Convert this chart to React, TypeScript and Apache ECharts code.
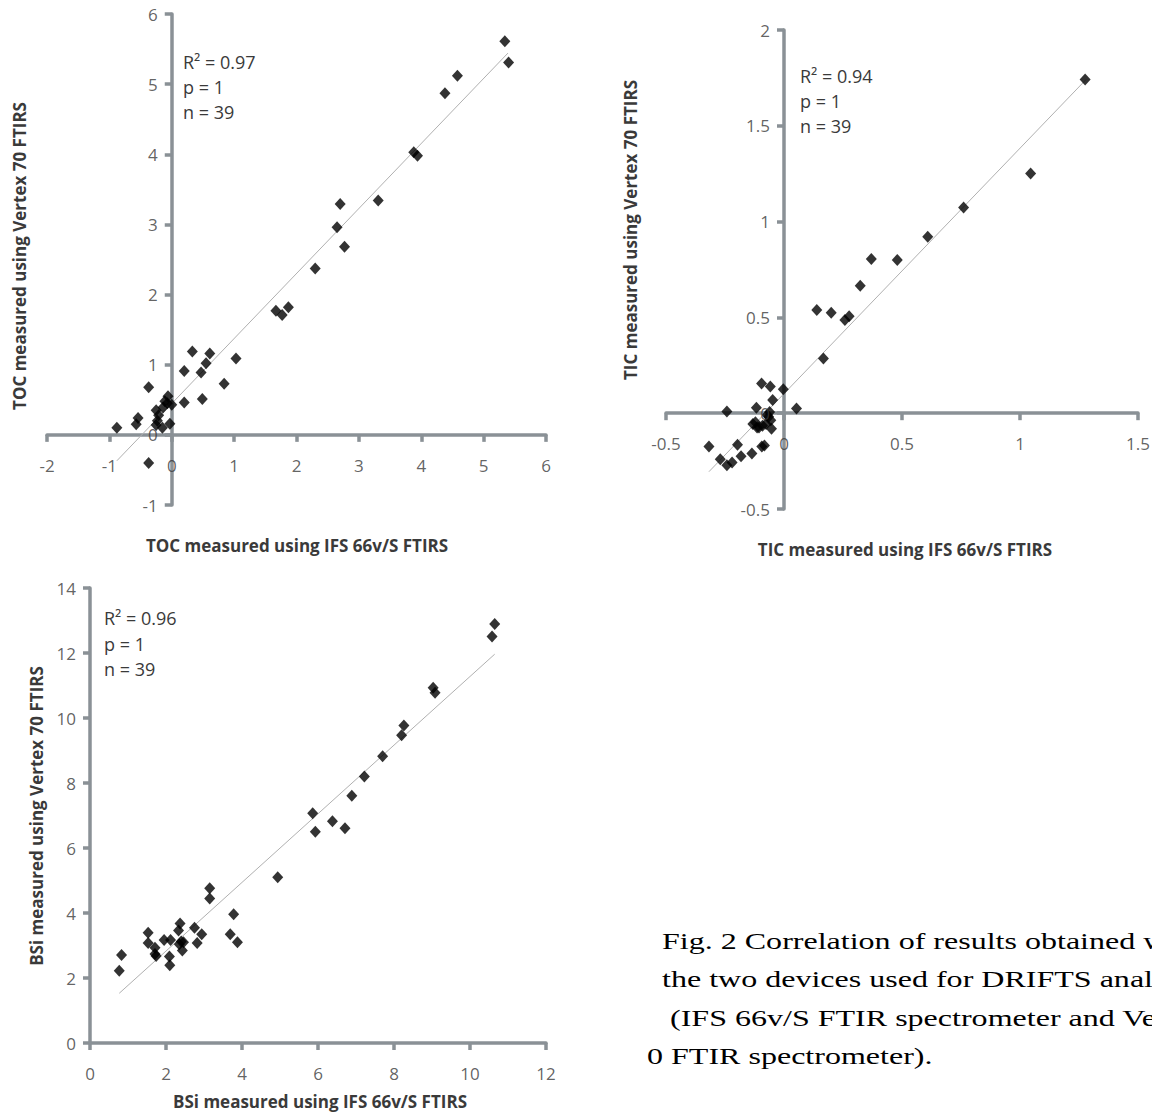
import React, { useEffect, useRef } from "react";
import * as echarts from "echarts";

const W = 1152;
const H = 1113;

// ---------- Data: TOC ----------
const tocX = [5.34, 5.40, 4.58, 4.38, 3.88, 3.94, 3.31, 2.70, 2.65, 2.77, 2.30, 1.67, 1.77, 1.87, 1.03, 0.33, 0.61, 0.55, 0.47, 0.20, 0.84, 0.49, 0.20, -0.37, -0.06, -0.11, 0.0, -0.14, -0.25, -0.21, -0.54, -0.57, -0.88, -0.25, -0.15, -0.03, -0.37, -0.23, -0.07];
const tocY = [5.61, 5.31, 5.12, 4.87, 4.03, 3.98, 3.34, 3.29, 2.96, 2.68, 2.37, 1.77, 1.71, 1.82, 1.09, 1.19, 1.16, 1.02, 0.89, 0.91, 0.73, 0.51, 0.46, 0.68, 0.55, 0.48, 0.43, 0.39, 0.35, 0.28, 0.24, 0.15, 0.10, 0.14, 0.10, 0.16, -0.40, 0.20, 0.45];
const tocFitX = [-0.88, 5.39];
const tocFitCoef = [0.927, 0.446];
const tocStats = ["R² = 0.97", "p = 1", "n = 39"];
const tocXTicks = [-2, -1, 0, 1, 2, 3, 4, 5, 6];
const tocYTicks = [-1, 0, 1, 2, 3, 4, 5, 6];

// ---------- Data: TIC ----------
const ticX = [1.276, 1.045, 0.761, 0.609, 0.370, 0.480, 0.323, 0.139, 0.200, 0.258, 0.276, 0.167, -0.003, -0.095, -0.058, -0.048, 0.053, -0.117, -0.242, -0.065, -0.071, -0.056, -0.132, -0.114, -0.091, -0.053, -0.318, -0.197, -0.094, -0.136, -0.182, -0.270, -0.242, -0.220, -0.083, -0.121, -0.076, -0.106, -0.061];
const ticY = [1.742, 1.251, 1.073, 0.921, 0.805, 0.800, 0.665, 0.539, 0.524, 0.487, 0.506, 0.285, 0.125, 0.155, 0.140, 0.069, 0.024, 0.028, 0.009, -0.019, -0.009, -0.037, -0.056, -0.075, -0.066, -0.081, -0.174, -0.165, -0.174, -0.210, -0.225, -0.240, -0.272, -0.257, -0.169, -0.047, -0.056, -0.075, 0.006];
const ticFitX = [-0.318, 1.28];
const ticFitCoef = [1.281, 0.102];
const ticStats = ["R² = 0.94", "p = 1", "n = 39"];
const ticXTicks = [-0.5, 0, 0.5, 1, 1.5];
const ticYTicks = [-0.5, 0, 0.5, 1, 1.5, 2];

// ---------- Data: BSi ----------
const bsiX = [10.65, 10.58, 9.03, 9.08, 8.26, 8.20, 7.70, 7.22, 6.89, 5.86, 5.93, 6.38, 6.71, 4.94, 3.15, 3.15, 3.78, 3.69, 3.88, 2.75, 2.94, 2.82, 2.37, 2.33, 2.40, 2.46, 2.43, 2.12, 1.95, 2.09, 2.10, 1.53, 1.53, 1.71, 1.74, 0.83, 0.77, 2.35, 1.71];
const bsiY = [12.89, 12.51, 10.93, 10.78, 9.77, 9.47, 8.82, 8.20, 7.61, 7.07, 6.50, 6.82, 6.61, 5.10, 4.76, 4.45, 3.96, 3.35, 3.10, 3.55, 3.35, 3.08, 3.68, 3.46, 3.12, 3.10, 2.85, 3.17, 3.17, 2.66, 2.39, 3.39, 3.08, 2.93, 2.68, 2.71, 2.22, 3.04, 2.74];
const bsiFitX = [0.77, 10.65];
const bsiFitCoef = [1.056, 0.717];
const bsiStats = ["R² = 0.96", "p = 1", "n = 39"];
const bsiXTicks = [0, 2, 4, 6, 8, 10, 12];
const bsiYTicks = [0, 2, 4, 6, 8, 10, 12, 14];

// ---------- Axis ranges [min, max, interval] ----------
const tocRange = { x: [-2, 6, 1], y: [-1, 6, 1] };
const ticRange = { x: [-0.5, 1.5, 0.5], y: [-0.5, 2, 0.5] };
const bsiRange = { x: [0, 12, 2], y: [0, 14, 2] };

const titles = {
  tocX: "TOC measured using IFS 66v/S FTIRS",
  tocY: "TOC measured using Vertex 70 FTIRS",
  ticX: "TIC measured using IFS 66v/S FTIRS",
  ticY: "TIC measured using Vertex 70 FTIRS",
  bsiX: "BSi measured using IFS 66v/S FTIRS",
  bsiY: "BSi measured using Vertex 70 FTIRS",
};

const captionLines = [
  "Fig. 2 Correlation of results obtained with",
  "the two devices used for DRIFTS analysis",
  " (IFS 66v/S FTIR spectrometer and Vertex 7",
  "0 FTIR spectrometer).",
];

// ---------- Styles ----------
const AXIS = "#8a9196";
const LABEL = "#3a3a3a";
const SANS = "'Open Sans', 'Liberation Sans', sans-serif";
const SERIF = "'Liberation Serif', 'Times New Roman', serif";
const TICK_FONT = 17;

function pairs(xs: number[], ys: number[]) {
  return xs.map((x, i) => [x, ys[i]]);
}
function fitLine(xs: number[], coef: number[]) {
  return xs.map((x) => [x, coef[0] * x + coef[1]]);
}

function axisBase(gridIndex: number, r: number[]) {
  return {
    type: "value",
    gridIndex,
    min: r[0],
    max: r[1],
    interval: r[2],
    axisLine: { show: true, onZero: true, lineStyle: { color: AXIS, width: 3.5 } },
    axisTick: { show: true, length: 7, lineStyle: { color: AXIS, width: 3.5 } },
    axisLabel: { show: false },
    splitLine: { show: false },
  };
}

function scatter(i: number, xs: number[], ys: number[]) {
  return {
    type: "scatter",
    xAxisIndex: i,
    yAxisIndex: i,
    symbol: "diamond",
    symbolSize: [11, 12],
    itemStyle: { color: "#000" },
    data: pairs(xs, ys),
    z: 3,
  };
}
function trend(i: number, xs: number[], coef: number[]) {
  return {
    type: "line",
    xAxisIndex: i,
    yAxisIndex: i,
    symbol: "none",
    silent: true,
    lineStyle: { color: "#b0b0b0", width: 1 },
    data: fitLine(xs, coef),
    z: 2,
  };
}
// Tick labels placed through the chart's scales, next to the axes that cross at zero
function tickLabels(i: number, ticks: number[], dim: "x" | "y") {
  return {
    type: "scatter",
    xAxisIndex: i,
    yAxisIndex: i,
    silent: true,
    symbol: "circle",
    symbolSize: 0.1,
    itemStyle: { color: "transparent" },
    data: ticks.map((v) => (dim === "x" ? [v, 0] : [0, v])),
    label: {
      show: true,
      position: dim === "x" ? "bottom" : "left",
      distance: dim === "x" ? 22 : 14,
      color: LABEL,
      fontSize: TICK_FONT,
      fontFamily: SANS,
      formatter: (p: any) => String(p.value[dim === "x" ? 0 : 1]),
    },
    z: 4,
  };
}

function text(x: number, y: number, s: string, opts: any = {}) {
  const { rotation, fontSize, fontWeight, family, align, fill, scaleX } = opts;
  return {
    type: "text",
    x,
    y,
    rotation: rotation || 0,
    scaleX: scaleX || 1,
    style: {
      x: 0,
      y: 0,
      text: s,
      fill: fill || LABEL,
      fontSize: fontSize || 16,
      fontWeight: fontWeight || "normal",
      fontFamily: family || SANS,
      align: align || "left",
      textAlign: align || "left",
      verticalAlign: "middle",
      textVerticalAlign: "middle",
    },
  };
}

function statsBlock(x: number, ys: number[], lines: string[]) {
  return lines.map((l, i) => text(x, ys[i], l, { fontSize: 18 }));
}

const TITLE = { fontSize: 17, fontWeight: "bold", align: "center" };

export default function App() {
  const ref = useRef<HTMLDivElement>(null);
  useEffect(() => {
    if (!ref.current) return;
    const chart = echarts.init(ref.current, null, { renderer: "svg", width: W, height: H });
    const graphic: any[] = [
      text(297, 545, titles.tocX, TITLE),
      text(19, 256, titles.tocY, { ...TITLE, rotation: Math.PI / 2 }),
      text(905, 549, titles.ticX, TITLE),
      text(630, 230, titles.ticY, { ...TITLE, rotation: Math.PI / 2 }),
      text(320, 1101, titles.bsiX, TITLE),
      text(36, 816, titles.bsiY, { ...TITLE, rotation: Math.PI / 2 }),
      ...statsBlock(183, [62, 87, 112], tocStats),
      ...statsBlock(800, [76, 101, 126], ticStats),
      ...statsBlock(104, [618, 644, 669], bsiStats),
      ...captionLines.map((l, i) =>
        text(i === 3 ? 647 : 662, [941, 979, 1018, 1056][i], l, {
          fontSize: 24,
          family: SERIF,
          fill: "#000",
          scaleX: 1.335,
        })
      ),
    ];
    chart.setOption({
      animation: false,
      backgroundColor: "#fff",
      grid: [
        { left: 47, top: 14, width: 499, height: 491 },
        { left: 666, top: 30, width: 472, height: 479 },
        { left: 90, top: 588, width: 456, height: 455 },
      ],
      xAxis: [axisBase(0, tocRange.x), axisBase(1, ticRange.x), axisBase(2, bsiRange.x)],
      yAxis: [axisBase(0, tocRange.y), axisBase(1, ticRange.y), axisBase(2, bsiRange.y)],
      series: [
        trend(0, tocFitX, tocFitCoef),
        scatter(0, tocX, tocY),
        tickLabels(0, tocXTicks, "x"),
        tickLabels(0, tocYTicks, "y"),
        trend(1, ticFitX, ticFitCoef),
        scatter(1, ticX, ticY),
        tickLabels(1, ticXTicks, "x"),
        tickLabels(1, ticYTicks, "y"),
        trend(2, bsiFitX, bsiFitCoef),
        scatter(2, bsiX, bsiY),
        tickLabels(2, bsiXTicks, "x"),
        tickLabels(2, bsiYTicks, "y"),
      ],
      graphic,
    });
    return () => chart.dispose();
  }, []);
  return (
    <div
      ref={ref}
      style={{ position: "fixed", left: 0, top: 0, width: W, height: H, background: "#fff", overflow: "hidden" }}
    />
  );
}
